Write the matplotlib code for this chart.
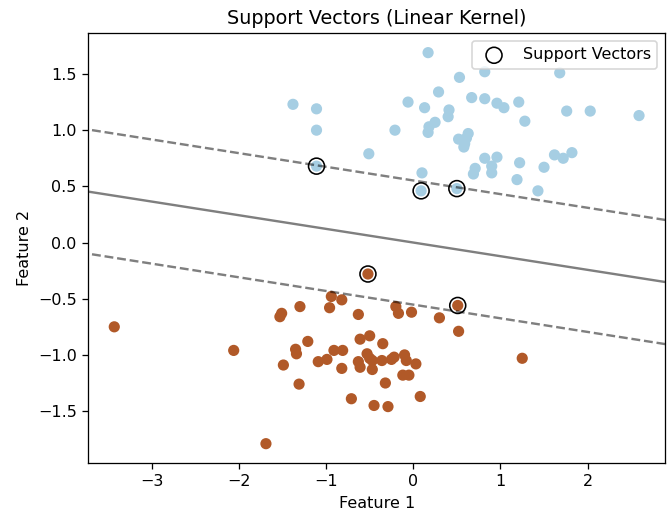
import numpy as np
import matplotlib
matplotlib.use('Agg')
import matplotlib.pyplot as plt

# class 0 (light blue) points
x0 = [0.17, 0.53, 0.29, -1.38, -1.11, -0.06, 0.13, 0.41, 0.40, 0.25, 0.18, 0.17,
      -1.11, -0.21, 0.52, 0.59, 0.58, 0.67, 0.63, 0.61, -0.51, 0.10, 0.82, 1.68,
      0.82, 0.96, 1.04, 1.21, 1.76, 2.03, 2.59, 1.28, 0.82, 0.96, 0.90, 0.90,
      0.71, 0.69, 1.22, 1.19, 1.50, 1.62, 1.72, 1.82, 1.43, -1.11, 0.09, 0.50]
y0 = [1.69, 1.47, 1.34, 1.23, 1.19, 1.25, 1.20, 1.18, 1.12, 1.07, 1.03, 0.98,
      1.00, 1.00, 0.92, 0.88, 0.85, 1.29, 0.97, 0.93, 0.79, 0.62, 1.52, 1.51,
      1.28, 1.24, 1.20, 1.25, 1.17, 1.17, 1.13, 1.08, 0.75, 0.76, 0.68, 0.62,
      0.66, 0.61, 0.71, 0.56, 0.67, 0.78, 0.75, 0.80, 0.46, 0.68, 0.46, 0.48]

# class 1 (brown) points
x1 = [-3.43, -1.51, -1.53, -2.06, -1.49, -1.69, -0.52, 0.51, -1.30, -0.94, -0.82,
      -0.96, -0.63, -0.20, -0.17, -0.02, 0.30, 0.52, -1.21, -0.61, -0.50, -0.35,
      -1.35, -1.34, -0.91, -0.81, -0.53, -0.50, -1.09, -0.99, -0.63, -0.61, -0.47,
      -0.36, -0.25, -0.22, -0.10, -0.08, 0.03, -0.82, -0.47, -0.12, -0.05, -0.32,
      -1.31, 0.08, -0.71, -0.45, -0.29, 1.25]
y1 = [-0.75, -0.63, -0.66, -0.96, -1.09, -1.79, -0.28, -0.56, -0.57, -0.48, -0.51,
      -0.58, -0.64, -0.57, -0.63, -0.62, -0.67, -0.79, -0.88, -0.86, -0.83, -0.90,
      -0.95, -0.99, -0.96, -0.96, -0.99, -1.03, -1.06, -1.04, -1.06, -1.11, -1.05,
      -1.05, -1.04, -1.02, -1.00, -1.05, -1.08, -1.12, -1.13, -1.18, -1.18, -1.25,
      -1.26, -1.37, -1.39, -1.45, -1.46, -1.03]

# support vectors
sv_x = [-1.11, 0.09, 0.50, -0.52, 0.51]
sv_y = [0.68, 0.46, 0.48, -0.28, -0.56]

# linear decision function: w . x + b
coef = [0.22, 1.81]
intercept = 0.0

X = np.column_stack([x0 + x1, y0 + y1])
labels = np.array([0] * len(x0) + [1] * len(x1))

dpi = 115
fig, ax = plt.subplots(figsize=(672 / dpi, 517 / dpi), dpi=dpi)
fig.subplots_adjust(left=0.131, right=0.99, top=0.936, bottom=0.104)

ax.scatter(X[:, 0], X[:, 1], c=labels, cmap=plt.cm.Paired)

xlim = ax.get_xlim()
ylim = ax.get_ylim()
xx = np.linspace(xlim[0], xlim[1], 50)
yy = np.linspace(ylim[0], ylim[1], 50)
YY, XX = np.meshgrid(yy, xx)
Z = coef[0] * XX + coef[1] * YY + intercept
ax.contour(XX, YY, Z, colors='k', levels=[-1, 0, 1], alpha=0.5,
           linestyles=['--', '-', '--'])

ax.scatter(sv_x, sv_y, s=100, linewidth=1, facecolors='none', edgecolors='k',
           label='Support Vectors')
ax.set_xlim(xlim)
ax.set_ylim(ylim)

ax.set_title('Support Vectors (Linear Kernel)')
ax.set_xlabel('Feature 1')
ax.set_ylabel('Feature 2')
ax.legend(loc='upper right')

plt.savefig('out.png')
